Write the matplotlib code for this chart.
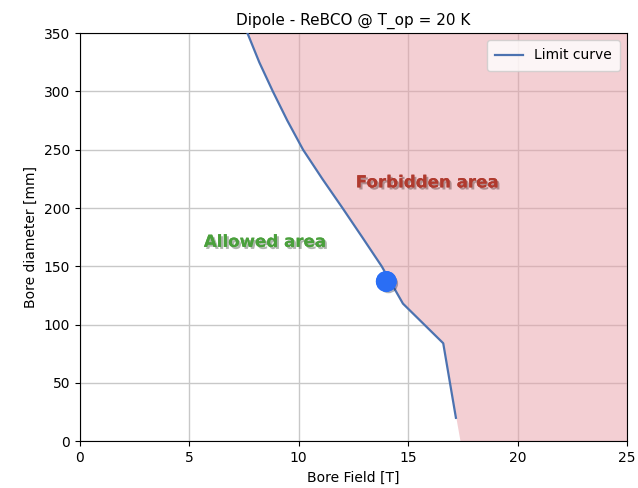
import matplotlib.pyplot as plt
import matplotlib.patheffects as pe

# limit curve
curve_B = [7.66, 8.2, 8.82, 9.48, 10.2, 11.08, 12.0, 12.9, 13.79, 14.76, 16.6, 17.18]
curve_d = [350, 325, 300, 275, 250, 225, 200, 175, 150, 118, 84, 20]

# forbidden region edge continues down to the axis
fill_B = curve_B + [17.37]
fill_d = curve_d + [0]

op_B = [14.0]
op_d = [137]

plt.figure(figsize=(6.38, 4.88), dpi=100)
ax = plt.gca()
plt.subplots_adjust(left=0.125, right=0.983, top=0.932, bottom=0.096)

plt.grid(True, color="#c8c8c8", linewidth=1.0)
ax.set_axisbelow(True)

plt.fill_betweenx(fill_d, fill_B, 25, color="#e8a0a8", alpha=0.5, linewidth=0, zorder=2)
plt.plot(curve_B, curve_d, color="#4c72b0", linewidth=1.6, label="Limit curve", zorder=3)

shadow = [pe.withSimplePatchShadow(offset=(1.5, -1.5), alpha=0.35), pe.Normal()]
plt.plot(op_B, op_d, "o", color="#2a6ef5", markersize=14, zorder=4, path_effects=shadow)

plt.text(15.86, 222, "Forbidden area", color="#b03a2e", fontsize=12, fontweight="bold",
         ha="center", va="center", path_effects=shadow)
plt.text(8.45, 171, "Allowed area", color="#4aa03c", fontsize=12, fontweight="bold",
         ha="center", va="center", path_effects=shadow)

plt.xlim(0, 25)
plt.ylim(0, 350)
plt.xticks(range(0, 26, 5))
plt.yticks(range(0, 351, 50))
plt.xlabel("Bore Field [T]")
plt.ylabel("Bore diameter [mm]")
plt.title("Dipole - ReBCO @ T_op = 20 K", fontsize=11)
plt.legend(loc="upper right", borderpad=0.6)

plt.savefig("out.png", dpi=100)
